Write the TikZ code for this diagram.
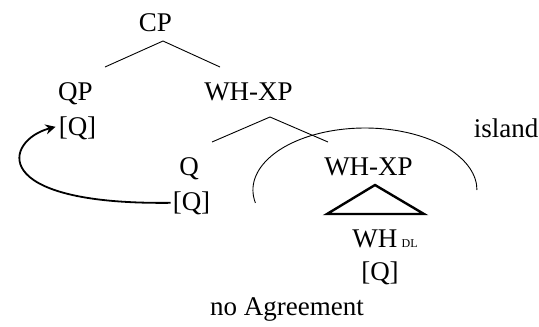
\documentclass[tikz,border=0pt]{standalone}
\usepackage{fontspec}
\setmainfont{Liberation Serif}
\usetikzlibrary{arrows.meta}
\begin{document}
\begin{tikzpicture}[x=1pt,y=-1pt,
  lbl/.style={anchor=base,inner sep=0pt,font=\fontsize{27}{31}\selectfont},
  thin line/.style={line width=0.9pt},
  tri/.style={line width=2.4pt,line join=miter},
  mover/.style={line width=1.8pt,-{Stealth[length=10pt,width=10pt]}}]
\useasboundingbox (0,0) rectangle (539,327);
% labels
\node[lbl] (cp) at (155.5,31) {CP};
\node[lbl] (qp) at (75.5,100) {QP};
\node[lbl] (q1) at (77.5,135) {[Q]};
\node[lbl] (whxp) at (248.5,100) {WH-XP};
\node[lbl] (qh) at (189,175) {Q};
\node[lbl] (q2) at (191.5,210) {[Q]};
\node[lbl] (whxp2) at (368.5,175) {WH-XP};
\node[lbl] (whdl) at (385,247) {WH\,{\fontsize{12}{14}\selectfont DL}};
\node[lbl] (q3) at (380,280) {[Q]};
\node[lbl] (isl) at (506,137) {island};
\node[lbl] (noag) at (287,315) {no Agreement};
% tree branches
\coordinate (cpa) at (163,41);
\coordinate (cpl) at (105,67);
\coordinate (cpr) at (220,67);
\draw[thin line] (cpl) -- (cpa) -- (cpr);
\coordinate (wa) at (270,117);
\coordinate (wl) at (212,142);
\coordinate (wr) at (328,142);
\draw[thin line] (wl) -- (wa) -- (wr);
% triangle
\coordinate (ta) at (375,185);
\coordinate (tl) at (327,214);
\coordinate (tr) at (424,214);
\draw[tri] (ta) -- (tl) -- (tr) -- cycle;
% island arc
\coordinate (islstart) at (255.4,202.9);
\draw[thin line] (islstart) arc[start angle=192,end angle=0,x radius=112pt,y radius=62pt];
% movement arrow
\draw[mover] ([xshift=-2pt]q2.west) .. controls (-15,205) and (5,140) .. ([xshift=-3pt,yshift=1pt]q1.west);
\end{tikzpicture}
\end{document}
